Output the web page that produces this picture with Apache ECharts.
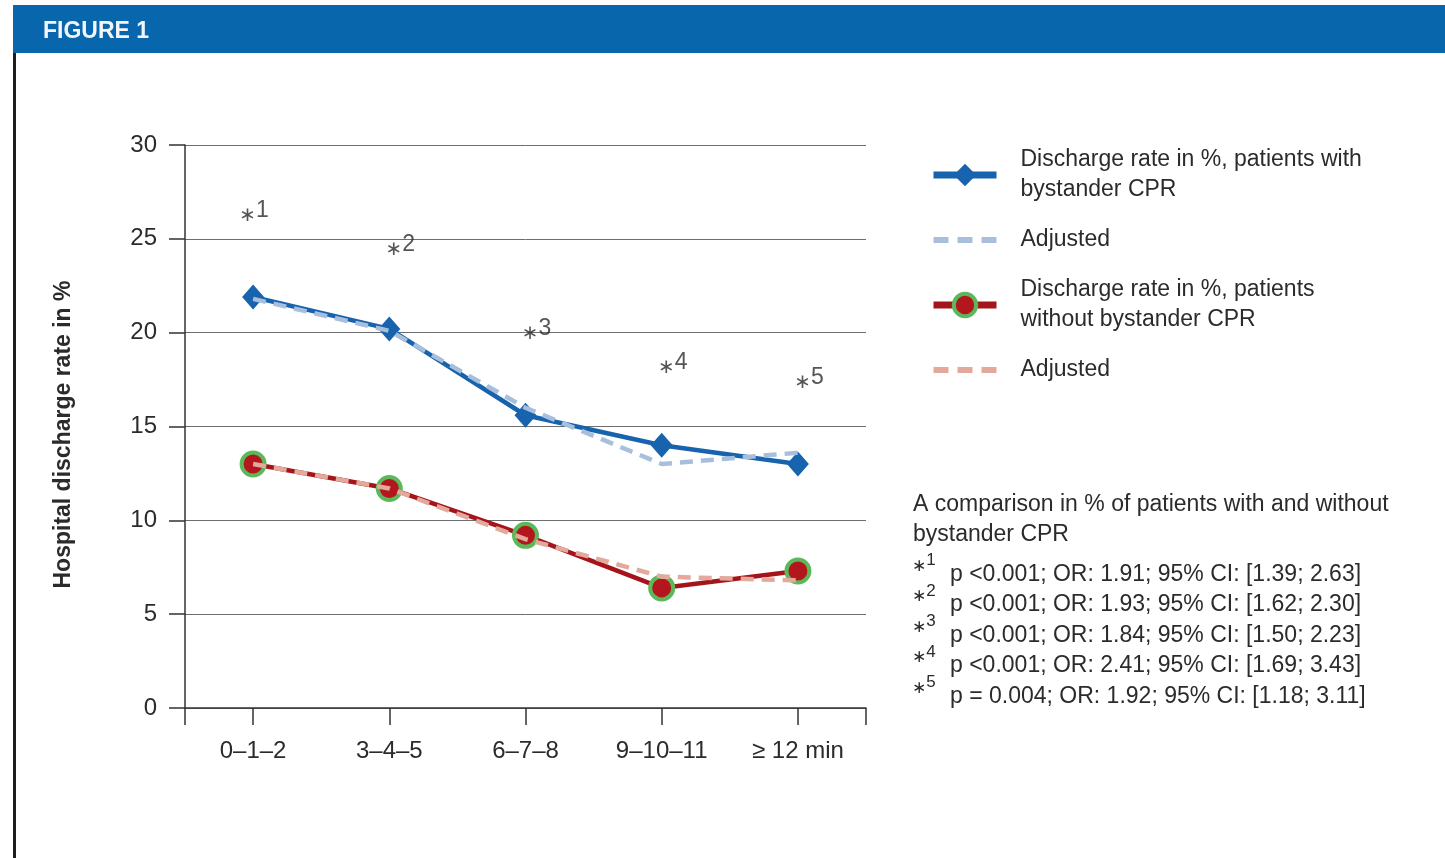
<!DOCTYPE html>
<html>
<head>
<meta charset="utf-8">
<script src="https://cdn.jsdelivr.net/npm/echarts@6/dist/echarts.min.js"></script>
<style>
  html, body { margin: 0; padding: 0; background: #ffffff; }
  #chart { width: 1445px; height: 858px; }
</style>
</head>
<body>
<div id="chart"></div>
<script>
// Time-to-CPR groups and hospital discharge rates (%)
const categories = ['0\u20131\u20132', '3\u20134\u20135', '6\u20137\u20138', '9\u201310\u201311', '\u2265 12 min'];
const withCPR = [21.9, 20.2, 15.6, 14.0, 13.0];
const withCPRAdjusted = [21.8, 20.1, 16.0, 13.0, 13.6];
const withoutCPR = [13.0, 11.7, 9.2, 6.4, 7.3];
const withoutCPRAdjusted = [13.0, 11.7, 9.0, 7.0, 6.8];
const yTicks = [0, 5, 10, 15, 20, 25, 30];

// Significance markers above each group and their statistics
const starLevels = [26.4, 24.6, 20.1, 18.3, 17.5];
const pValues = ['p <0.001', 'p <0.001', 'p <0.001', 'p <0.001', 'p = 0.004'];
const oddsRatios = ['1.91', '1.93', '1.84', '2.41', '1.92'];
const ciLow = ['1.39', '1.62', '1.50', '1.69', '1.18'];
const ciHigh = ['2.63', '2.30', '2.23', '3.43', '3.11'];

const seriesNames = [
  'Discharge rate in %, patients with\nbystander CPR',
  'Adjusted',
  'Discharge rate in %, patients\nwithout bystander CPR',
  'Adjusted '
];

const FONT = "'Liberation Sans', Arial, sans-serif";
const STAR_FONT = "'DejaVu Sans', sans-serif";
const TEXT = '#2b2b2b';
const BLUE = '#1763ae';
const BLUE_ADJ = '#a7bfdd';
const RED = '#a5141b';
const RED_ADJ = '#e2a99c';
const GREEN = '#5bb85b';

const pairs = arr => arr.map((v, i) => [i, v]);

// Statistics block on the right
const statsGraphics = [{
  type: 'text', left: 913, top: 489,
  style: {
    text: 'A comparison in % of patients with and without\nbystander CPR',
    font: '23px ' + FONT, fill: TEXT, lineHeight: 30.5
  }
}];
pValues.forEach((p, i) => {
  const rowY = 576 + i * 30.5;
  statsGraphics.push({
    type: 'text', left: 912, top: rowY - 24,
    style: {
      text: '{s|\u2217}{n|' + (i + 1) + '}',
      rich: {
        s: { fontFamily: STAR_FONT, fontSize: 17, fill: TEXT, padding: [6, 0, 0, 0] },
        n: { fontFamily: FONT, fontSize: 17, fill: TEXT, padding: [0, 0, 6, 0] }
      }
    }
  });
  statsGraphics.push({
    type: 'text', left: 950, top: rowY - 13,
    style: {
      text: p + '; OR: ' + oddsRatios[i] + '; 95% CI: [' + ciLow[i] + '; ' + ciHigh[i] + ']',
      font: '23px ' + FONT, fill: TEXT
    }
  });
});

const chart = echarts.init(document.getElementById('chart'), null, { renderer: 'canvas' });

chart.setOption({
  animation: false,
  backgroundColor: '#ffffff',
  textStyle: { fontFamily: FONT },
  graphic: [
    // header bar
    { type: 'rect', left: 13, top: 5, shape: { width: 1432, height: 48 }, style: { fill: '#0866ad' } },
    { type: 'text', left: 43, top: 20, style: { text: 'FIGURE 1', font: 'bold 23px ' + FONT, fill: '#f2f5f9' } },
    // left frame rule
    { type: 'rect', left: 13, top: 53, shape: { width: 3, height: 805 }, style: { fill: '#1e1e1e' } }
  ].concat(statsGraphics),
  grid: { left: 185, right: 579, top: 145, bottom: 150, containLabel: false },
  legend: {
    orient: 'vertical',
    left: 925,
    top: 140,
    itemWidth: 63,
    itemHeight: 28,
    itemGap: 20,
    selectedMode: false,
    textStyle: { fontFamily: FONT, fontSize: 23, color: TEXT, lineHeight: 30, padding: [0, 0, 0, 19] },
    data: [
      { name: seriesNames[0], lineStyle: { width: 7, color: BLUE }, itemStyle: { color: BLUE } },
      { name: seriesNames[1], lineStyle: { width: 6, color: BLUE_ADJ, type: [15, 9] }, itemStyle: { opacity: 0 } },
      { name: seriesNames[2], lineStyle: { width: 7, color: RED }, itemStyle: { color: '#b3161c', borderColor: GREEN, borderWidth: 4 } },
      { name: seriesNames[3], lineStyle: { width: 6, color: RED_ADJ, type: [15, 9] }, itemStyle: { opacity: 0 } }
    ]
  },
  xAxis: {
    type: 'value',
    min: -0.5,
    max: 4.5,
    axisLine: { show: true, onZero: false, lineStyle: { color: '#333', width: 1.5 } },
    axisTick: { show: true, length: 17, customValues: [-0.5, 0, 1, 2, 3, 4, 4.5], lineStyle: { color: '#333', width: 1.5 } },
    axisLabel: {
      customValues: [0, 1, 2, 3, 4],
      formatter: v => categories[Math.round(v)],
      fontFamily: FONT, fontSize: 24, color: TEXT, margin: 31
    },
    splitLine: { show: false }
  },
  yAxis: {
    type: 'value',
    min: yTicks[0],
    max: yTicks[yTicks.length - 1],
    interval: yTicks[1] - yTicks[0],
    name: 'Hospital discharge rate in %',
    nameLocation: 'middle',
    nameGap: 110,
    nameTextStyle: { fontFamily: FONT, fontSize: 23, fontWeight: 'bold', color: TEXT, padding: [0, 16, 0, 0] },
    axisLine: { show: true, onZero: false, lineStyle: { color: '#333', width: 1.5 } },
    axisTick: { show: true, length: 16, lineStyle: { color: '#333', width: 1.5 } },
    axisLabel: { fontFamily: FONT, fontSize: 24, color: TEXT, margin: 28 },
    splitLine: { show: true, lineStyle: { color: '#6e6e6e', width: 1 } }
  },
  series: [
    {
      name: seriesNames[0], type: 'line', z: 2,
      data: pairs(withCPR),
      symbol: 'diamond', symbolSize: [22, 25],
      lineStyle: { color: BLUE, width: 4.5 },
      itemStyle: { color: BLUE }
    },
    {
      name: seriesNames[1], type: 'line', z: 3,
      data: pairs(withCPRAdjusted),
      symbol: 'none',
      lineStyle: { color: BLUE_ADJ, width: 4.5, type: [13, 8] },
      itemStyle: { color: BLUE_ADJ }
    },
    {
      name: seriesNames[2], type: 'line', z: 2,
      data: pairs(withoutCPR),
      symbol: 'circle', symbolSize: 23,
      lineStyle: { color: RED, width: 4.5 },
      itemStyle: { color: '#b3161c', borderColor: GREEN, borderWidth: 4 }
    },
    {
      name: seriesNames[3], type: 'line', z: 3,
      data: pairs(withoutCPRAdjusted),
      symbol: 'none',
      lineStyle: { color: RED_ADJ, width: 4.5, type: [13, 8] },
      itemStyle: { color: RED_ADJ }
    },
    {
      name: 'significance', type: 'scatter', z: 4,
      data: pairs(starLevels).map((d, i) => i === 0 ? { value: d, label: { offset: [1, 0] } } : d),
      symbolSize: 0,
      silent: true,
      label: {
        show: true, position: 'inside', offset: [11, 0],
        formatter: p => '{s|\u2217}{n|' + (p.dataIndex + 1) + '}',
        rich: {
          s: { fontFamily: STAR_FONT, fontSize: 20, color: TEXT, padding: [6, 0, 0, 0] },
          n: { fontFamily: FONT, fontSize: 23, color: TEXT, padding: [0, 0, 4, 0] }
        }
      }
    }
  ]
});
</script>
</body>
</html>
